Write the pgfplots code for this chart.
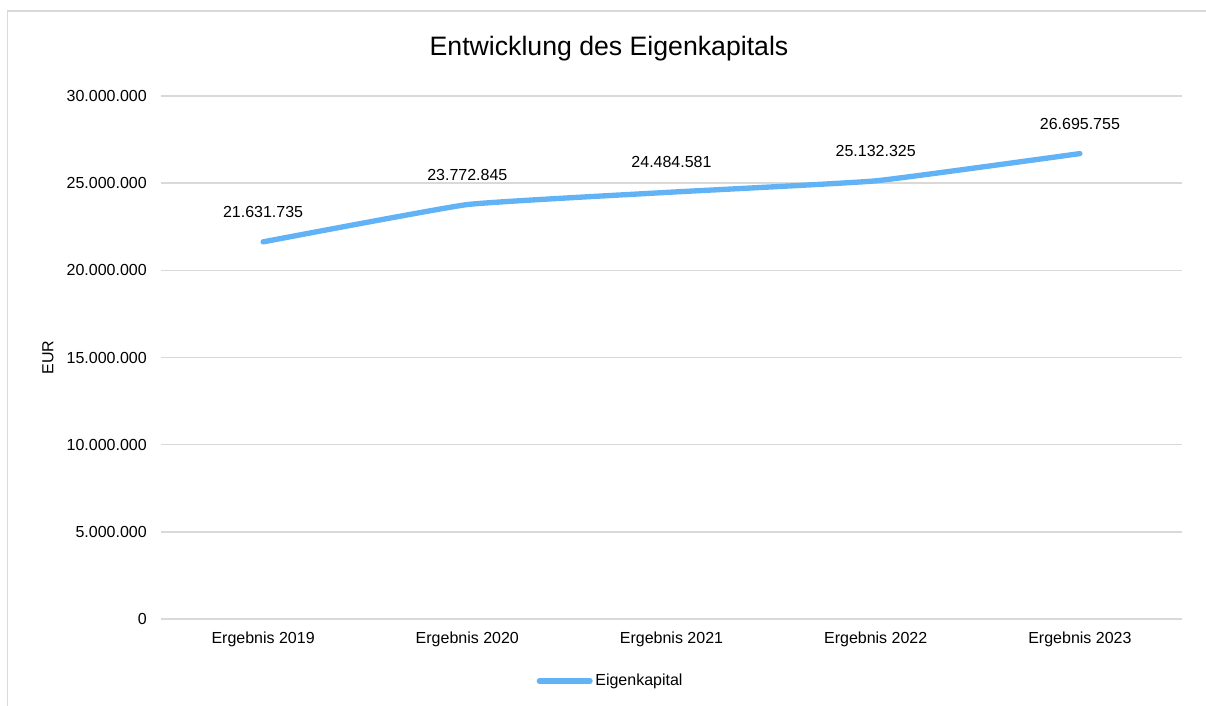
\documentclass[border=0pt]{standalone}
\usepackage{fontspec}
\setmainfont{Liberation Sans}
\usepackage{pgfplots}
\pgfplotsset{compat=1.18}
\definecolor{linecol}{RGB}{98,179,245}
\definecolor{gridcol}{RGB}{217,217,217}
\begin{document}
\begin{tikzpicture}[x=1pt,y=1pt]
\useasboundingbox (0,0) rectangle (904.5,529.5);
\draw[gridcol, line width=1pt] (5.6,0) -- (5.6,521.25) -- (904.5,521.25);
\begin{axis}[
  at={(120.75pt,65.25pt)}, anchor=south west,
  scale only axis, width=765.75pt, height=392.25pt,
  xmin=-0.5, xmax=4.5, ymin=0, ymax=30000000,
  xtick={0,1,2,3,4},
  xticklabels={Ergebnis 2019,Ergebnis 2020,Ergebnis 2021,Ergebnis 2022,Ergebnis 2023},
  ytick={0,5000000,10000000,15000000,20000000,25000000,30000000},
  yticklabels={0,5.000.000,10.000.000,15.000.000,20.000.000,25.000.000,30.000.000},
  scaled y ticks=false,
  axis line style={draw=none},
  tick style={draw=none},
  major tick length=0pt,
  ymajorgrids, grid style={gridcol, line width=1.2pt},
  yticklabel style={font=\fontsize{12}{14}\selectfont, anchor=east, inner sep=0pt, xshift=-10.5pt},
  xticklabel style={font=\fontsize{12}{14}\selectfont, anchor=north, inner sep=0pt, yshift=-9.5pt},
  ylabel={EUR},
  ylabel style={at={(axis description cs:-0.1107,0.5)}, anchor=center, font=\fontsize{12}{14}\selectfont, inner sep=0pt},
  title={Entwicklung des Eigenkapitals},
  title style={at={(axis description cs:0.4388,1.063)}, anchor=base, font=\fontsize{20}{24}\selectfont, inner sep=0pt},
  legend style={at={(axis description cs:0.4407,-0.1185)}, anchor=center, draw=none, fill=none,
    font=\fontsize{12}{14}\selectfont, inner sep=0pt,
    /tikz/every even column/.append style={column sep=1pt}},
  legend image code/.code={\draw[linecol, line width=4pt, line cap=round] (0pt,0pt) -- (38pt,0pt);},
  clip=false,
]
\addplot[linecol, line width=4pt, line cap=round, line join=round, smooth, tension=0.2,
  nodes near coords, point meta=explicit symbolic,
  nodes near coords style={font=\fontsize{12}{14}\selectfont, text=black, anchor=south, inner sep=0pt, yshift=16pt}]
  table[x=x, y=y, meta=lab] {
x y lab
0 21631735 21.631.735
1 23772845 23.772.845
2 24484581 24.484.581
3 25132325 25.132.325
4 26695755 26.695.755
};
\addlegendentry{Eigenkapital}
\end{axis}
\end{tikzpicture}
\end{document}
